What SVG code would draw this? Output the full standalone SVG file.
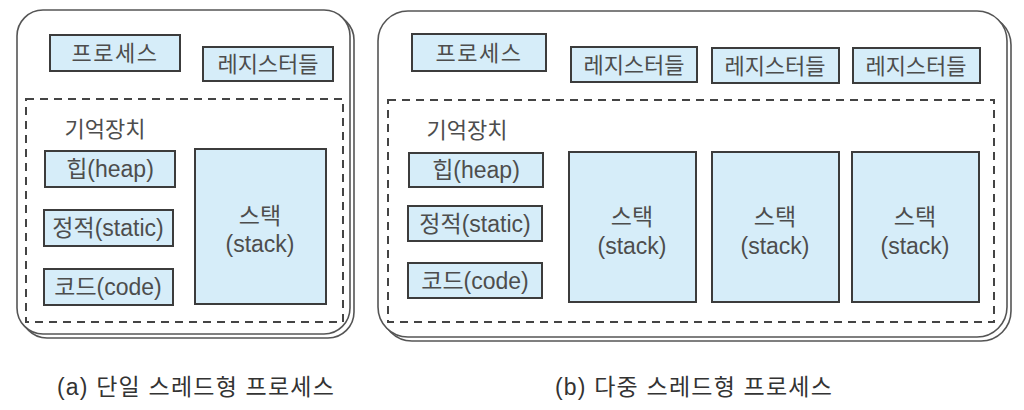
<svg xmlns="http://www.w3.org/2000/svg" width="1024" height="410" viewBox="0 0 1024 410">
<style>
text{font-family:"Liberation Sans","Noto Sans CJK KR",sans-serif;fill:#4d4d4d;text-anchor:middle}
.t{font-size:22px}
.m{font-size:23px}
.cap{font-size:23px;fill:#333;letter-spacing:1.2px}
.box{fill:#d6edf9;stroke:#3c3c3c;stroke-width:2}
.outer{fill:#fff;stroke:#555;stroke-width:1.6}
.shadow{fill:#fff;stroke:#555;stroke-width:1.6}
.dash{fill:none;stroke:#444;stroke-width:2;stroke-dasharray:8 6}
</style>
<rect width="1024" height="410" fill="#fff"/>
<g id="panel-a">
<rect class="shadow" x="21" y="14" width="333" height="324" rx="26"/>
<rect class="outer" x="17" y="10" width="333" height="324" rx="26"/>
<rect class="dash" x="26" y="99" width="317" height="223"/>
<g id="a-process"><rect class="box" x="50" y="35" width="130" height="36"/><text class="t" x="115" y="61" letter-spacing="1.5">프로세스</text></g>
<g id="a-registers"><rect class="box" x="203" y="47" width="130" height="34"/><text class="t" x="268" y="72">레지스터들</text></g>
<g id="a-memory"><text class="t" x="105" y="137">기억장치</text></g>
<g id="a-heap"><rect class="box" x="45" y="151" width="130" height="36"/><text class="m" x="110" y="177">힙(heap)</text></g>
<g id="a-static"><rect class="box" x="44" y="210" width="129" height="36"/><text class="m" x="108" y="236">정적(static)</text></g>
<g id="a-code"><rect class="box" x="44" y="269" width="129" height="36"/><text class="m" x="108" y="295">코드(code)</text></g>
<g id="a-stack"><rect class="box" x="195" y="149" width="131" height="155"/><text class="m" x="260" y="224">스택</text><text class="m" x="260" y="252">(stack)</text></g>
<text class="cap" x="196" y="395">(a) 단일 스레드형 프로세스</text>
</g>
<g id="panel-b">
<rect class="shadow" x="382" y="15" width="629" height="326" rx="30"/>
<rect class="outer" x="378" y="11" width="629" height="326" rx="30"/>
<rect class="dash" x="388" y="100" width="606" height="222"/>
<g id="b-process"><rect class="box" x="412" y="34" width="134" height="37"/><text class="t" x="479" y="61" letter-spacing="1.5">프로세스</text></g>
<g id="b-registers1"><rect class="box" x="571" y="47" width="126" height="35"/><text class="t" x="634" y="73">레지스터들</text></g>
<g id="b-registers2"><rect class="box" x="712" y="48" width="127" height="35"/><text class="t" x="775" y="74">레지스터들</text></g>
<g id="b-registers3"><rect class="box" x="853" y="48" width="127" height="35"/><text class="t" x="916" y="74">레지스터들</text></g>
<g id="b-memory"><text class="t" x="467" y="138">기억장치</text></g>
<g id="b-heap"><rect class="box" x="409" y="153" width="134" height="34"/><text class="m" x="476" y="178">힙(heap)</text></g>
<g id="b-static"><rect class="box" x="408" y="206" width="134" height="35"/><text class="m" x="475" y="232">정적(static)</text></g>
<g id="b-code"><rect class="box" x="408" y="263" width="134" height="35"/><text class="m" x="475" y="289">코드(code)</text></g>
<g id="b-stack1"><rect class="box" x="569" y="152" width="127" height="150"/><text class="m" x="632" y="225">스택</text><text class="m" x="632" y="254">(stack)</text></g>
<g id="b-stack2"><rect class="box" x="712" y="152" width="127" height="150"/><text class="m" x="775" y="225">스택</text><text class="m" x="775" y="254">(stack)</text></g>
<g id="b-stack3"><rect class="box" x="852" y="152" width="127" height="150"/><text class="m" x="915" y="225">스택</text><text class="m" x="915" y="254">(stack)</text></g>
<text class="cap" x="694" y="395">(b) 다중 스레드형 프로세스</text>
</g>
<g id="connectors"/>
</svg>
